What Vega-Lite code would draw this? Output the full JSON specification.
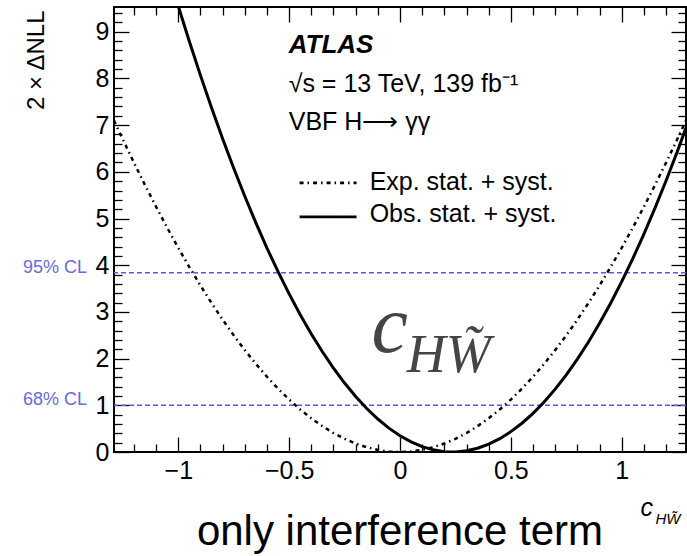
{
  "$schema": "https://vega.github.io/schema/vega-lite/v6.json",
  "width": 572,
  "height": 445,
  "autosize": {"type": "none"},
  "padding": {"left": 114, "top": 7, "right": 1, "bottom": 104},
  "background": "white",
  "title": {"text": "only interference term", "orient": "bottom", "anchor": "middle", "frame": "group", "fontSize": 42, "font": "Liberation Sans", "fontWeight": "normal", "color": "black", "offset": -14},
  "datasets": {
    "curves": [
      {"series": "Obs", "c": -1.05, "nll": 10.34},
      {"series": "Obs", "c": -1.0, "nll": 9.548},
      {"series": "Obs", "c": -0.95, "nll": 8.791},
      {"series": "Obs", "c": -0.9, "nll": 8.066},
      {"series": "Obs", "c": -0.85, "nll": 7.371},
      {"series": "Obs", "c": -0.8, "nll": 6.708},
      {"series": "Obs", "c": -0.75, "nll": 6.076},
      {"series": "Obs", "c": -0.7, "nll": 5.476},
      {"series": "Obs", "c": -0.65, "nll": 4.906},
      {"series": "Obs", "c": -0.6, "nll": 4.368},
      {"series": "Obs", "c": -0.55, "nll": 3.861},
      {"series": "Obs", "c": -0.5, "nll": 3.386},
      {"series": "Obs", "c": -0.45, "nll": 2.941},
      {"series": "Obs", "c": -0.4, "nll": 2.528},
      {"series": "Obs", "c": -0.35, "nll": 2.146},
      {"series": "Obs", "c": -0.3, "nll": 1.796},
      {"series": "Obs", "c": -0.25, "nll": 1.476},
      {"series": "Obs", "c": -0.2, "nll": 1.188},
      {"series": "Obs", "c": -0.15, "nll": 0.931},
      {"series": "Obs", "c": -0.1, "nll": 0.706},
      {"series": "Obs", "c": -0.05, "nll": 0.511},
      {"series": "Obs", "c": 0.0, "nll": 0.348},
      {"series": "Obs", "c": 0.05, "nll": 0.216},
      {"series": "Obs", "c": 0.1, "nll": 0.116},
      {"series": "Obs", "c": 0.15, "nll": 0.046},
      {"series": "Obs", "c": 0.2, "nll": 0.008},
      {"series": "Obs", "c": 0.236, "nll": 0.0},
      {"series": "Obs", "c": 0.25, "nll": 0.001},
      {"series": "Obs", "c": 0.3, "nll": 0.026},
      {"series": "Obs", "c": 0.35, "nll": 0.081},
      {"series": "Obs", "c": 0.4, "nll": 0.168},
      {"series": "Obs", "c": 0.45, "nll": 0.286},
      {"series": "Obs", "c": 0.5, "nll": 0.436},
      {"series": "Obs", "c": 0.55, "nll": 0.616},
      {"series": "Obs", "c": 0.6, "nll": 0.828},
      {"series": "Obs", "c": 0.65, "nll": 1.071},
      {"series": "Obs", "c": 0.7, "nll": 1.346},
      {"series": "Obs", "c": 0.75, "nll": 1.651},
      {"series": "Obs", "c": 0.8, "nll": 1.988},
      {"series": "Obs", "c": 0.85, "nll": 2.356},
      {"series": "Obs", "c": 0.9, "nll": 2.756},
      {"series": "Obs", "c": 0.95, "nll": 3.186},
      {"series": "Obs", "c": 1.0, "nll": 3.648},
      {"series": "Obs", "c": 1.05, "nll": 4.141},
      {"series": "Obs", "c": 1.1, "nll": 4.666},
      {"series": "Obs", "c": 1.15, "nll": 5.221},
      {"series": "Obs", "c": 1.2, "nll": 5.808},
      {"series": "Obs", "c": 1.25, "nll": 6.426},
      {"series": "Obs", "c": 1.29, "nll": 6.943},
      {"series": "Exp", "c": -1.29, "nll": 7.101},
      {"series": "Exp", "c": -1.25, "nll": 6.692},
      {"series": "Exp", "c": -1.2, "nll": 6.196},
      {"series": "Exp", "c": -1.15, "nll": 5.715},
      {"series": "Exp", "c": -1.1, "nll": 5.25},
      {"series": "Exp", "c": -1.05, "nll": 4.802},
      {"series": "Exp", "c": -1.0, "nll": 4.372},
      {"series": "Exp", "c": -0.95, "nll": 3.96},
      {"series": "Exp", "c": -0.9, "nll": 3.566},
      {"series": "Exp", "c": -0.85, "nll": 3.19},
      {"series": "Exp", "c": -0.8, "nll": 2.834},
      {"series": "Exp", "c": -0.75, "nll": 2.498},
      {"series": "Exp", "c": -0.7, "nll": 2.182},
      {"series": "Exp", "c": -0.65, "nll": 1.886},
      {"series": "Exp", "c": -0.6, "nll": 1.611},
      {"series": "Exp", "c": -0.55, "nll": 1.356},
      {"series": "Exp", "c": -0.5, "nll": 1.123},
      {"series": "Exp", "c": -0.45, "nll": 0.911},
      {"series": "Exp", "c": -0.4, "nll": 0.721},
      {"series": "Exp", "c": -0.35, "nll": 0.553},
      {"series": "Exp", "c": -0.3, "nll": 0.406},
      {"series": "Exp", "c": -0.25, "nll": 0.283},
      {"series": "Exp", "c": -0.2, "nll": 0.181},
      {"series": "Exp", "c": -0.15, "nll": 0.102},
      {"series": "Exp", "c": -0.1, "nll": 0.045},
      {"series": "Exp", "c": -0.05, "nll": 0.011},
      {"series": "Exp", "c": 0.0, "nll": 0.0},
      {"series": "Exp", "c": 0.05, "nll": 0.011},
      {"series": "Exp", "c": 0.1, "nll": 0.045},
      {"series": "Exp", "c": 0.15, "nll": 0.102},
      {"series": "Exp", "c": 0.2, "nll": 0.181},
      {"series": "Exp", "c": 0.25, "nll": 0.283},
      {"series": "Exp", "c": 0.3, "nll": 0.406},
      {"series": "Exp", "c": 0.35, "nll": 0.553},
      {"series": "Exp", "c": 0.4, "nll": 0.721},
      {"series": "Exp", "c": 0.45, "nll": 0.911},
      {"series": "Exp", "c": 0.5, "nll": 1.123},
      {"series": "Exp", "c": 0.55, "nll": 1.356},
      {"series": "Exp", "c": 0.6, "nll": 1.611},
      {"series": "Exp", "c": 0.65, "nll": 1.886},
      {"series": "Exp", "c": 0.7, "nll": 2.182},
      {"series": "Exp", "c": 0.75, "nll": 2.498},
      {"series": "Exp", "c": 0.8, "nll": 2.834},
      {"series": "Exp", "c": 0.85, "nll": 3.19},
      {"series": "Exp", "c": 0.9, "nll": 3.566},
      {"series": "Exp", "c": 0.95, "nll": 3.96},
      {"series": "Exp", "c": 1.0, "nll": 4.372},
      {"series": "Exp", "c": 1.05, "nll": 4.802},
      {"series": "Exp", "c": 1.1, "nll": 5.25},
      {"series": "Exp", "c": 1.15, "nll": 5.715},
      {"series": "Exp", "c": 1.2, "nll": 6.196},
      {"series": "Exp", "c": 1.25, "nll": 6.692},
      {"series": "Exp", "c": 1.29, "nll": 7.101}
    ],
    "cl": [
      {"level": 1.0, "label": "68% CL"},
      {"level": 3.84, "label": "95% CL"}
    ],
    "legend": [
      {"series": "Exp", "label": "Exp. stat. + syst.", "x1": -0.453, "x2": -0.196, "ly": 5.764, "tx": -0.137, "ty": 5.614},
      {"series": "Obs", "label": "Obs. stat. + syst.", "x1": -0.453, "x2": -0.196, "ly": 5.035, "tx": -0.137, "ty": 4.928}
    ],
    "info": [
      {"text": "√s = 13 TeV, 139 fb⁻¹", "x": -0.502, "y": 7.72},
      {"text": "VBF H⟶ γγ", "x": -0.502, "y": 6.9}
    ],
    "atlas": [
      {"text": "ATLAS", "x": -0.502, "y": 8.55}
    ],
    "wmc": [{"text": "c", "x": -0.128, "y": 2.14}],
    "wmhw": [{"text": "HW̃", "x": 0.03, "y": 1.71}]
  },
  "resolve": {"axis": {"x": "independent", "y": "independent"}},
  "layer": [
    {
      "data": {"name": "cl"},
      "mark": {"type": "rule", "color": "#5b5bdf", "strokeWidth": 1.6, "strokeDash": [5, 3]},
      "encoding": {
        "y": {"field": "level", "type": "quantitative", "scale": {"domain": [0, 9.53], "nice": false, "zero": false},
          "axis": {"orient": "left", "values": [0, 1, 2, 3, 4, 5, 6, 7, 8, 9], "tickSize": -15, "labelPadding": 20, "format": "~g",
            "title": "2 × ΔNLL", "titleFontSize": 24, "titleAngle": 270, "titleAlign": "right", "titleBaseline": "alphabetic", "titleX": -71, "titleY": 3}}
      }
    },
    {
      "data": {"name": "cl"},
      "mark": {"type": "text", "align": "right", "baseline": "alphabetic", "dx": -27, "fontSize": 18, "font": "Liberation Sans", "color": "#6a6ad8"},
      "encoding": {
        "x": {"datum": -1.29, "type": "quantitative", "scale": {"domain": [-1.29, 1.29], "nice": false, "zero": false}, "axis": null},
        "y": {"field": "level", "type": "quantitative", "scale": {"domain": [0, 9.53], "nice": false, "zero": false},
          "axis": {"orient": "left", "values": [0.2, 0.4, 0.6, 0.8, 1.2, 1.4, 1.6, 1.8, 2.2, 2.4, 2.6, 2.8, 3.2, 3.4, 3.6, 3.8, 4.2, 4.4, 4.6, 4.8, 5.2, 5.4, 5.6, 5.8, 6.2, 6.4, 6.6, 6.8, 7.2, 7.4, 7.6, 7.8, 8.2, 8.4, 8.6, 8.8, 9.2, 9.4], "tickSize": -8, "labels": false, "title": null}},
        "text": {"field": "label"}
      }
    },
    {
      "data": {"name": "curves"},
      "transform": [{"filter": "datum.series === 'Obs'"}],
      "mark": {"type": "line", "color": "black", "strokeWidth": 3, "clip": true},
      "encoding": {
        "x": {"field": "c", "type": "quantitative", "scale": {"domain": [-1.29, 1.29], "nice": false, "zero": false},
          "axis": {"orient": "bottom", "values": [-1, -0.5, 0, 0.5, 1], "tickSize": -15, "labelPadding": 21, "format": "~g",
            "title": "c", "titleFontSize": 25, "titleFontStyle": "italic", "titleAlign": "left", "titleBaseline": "alphabetic", "titleX": 526, "titleY": 63}},
        "y": {"field": "nll", "type": "quantitative", "scale": {"domain": [0, 9.53], "nice": false, "zero": false},
          "axis": {"orient": "right", "values": [0, 1, 2, 3, 4, 5, 6, 7, 8, 9], "tickSize": -15, "labels": false, "title": null}}
      }
    },
    {
      "data": {"name": "curves"},
      "transform": [{"filter": "datum.series === 'Exp'"}],
      "mark": {"type": "line", "color": "black", "strokeWidth": 2.5, "strokeDash": [4, 4, 1.5, 4], "clip": true},
      "encoding": {
        "x": {"field": "c", "type": "quantitative", "scale": {"domain": [-1.29, 1.29], "nice": false, "zero": false},
          "axis": {"orient": "bottom", "values": [-1.2, -1.1, -0.9, -0.8, -0.7, -0.6, -0.4, -0.3, -0.2, -0.1, 0.1, 0.2, 0.3, 0.4, 0.6, 0.7, 0.8, 0.9, 1.1, 1.2], "tickSize": -8, "labels": false, "title": null}},
        "y": {"field": "nll", "type": "quantitative", "scale": {"domain": [0, 9.53], "nice": false, "zero": false},
          "axis": {"orient": "right", "values": [0.2, 0.4, 0.6, 0.8, 1.2, 1.4, 1.6, 1.8, 2.2, 2.4, 2.6, 2.8, 3.2, 3.4, 3.6, 3.8, 4.2, 4.4, 4.6, 4.8, 5.2, 5.4, 5.6, 5.8, 6.2, 6.4, 6.6, 6.8, 7.2, 7.4, 7.6, 7.8, 8.2, 8.4, 8.6, 8.8, 9.2, 9.4], "tickSize": -8, "labels": false, "title": null}}
      }
    },
    {
      "data": {"name": "legend"},
      "mark": {"type": "rule", "color": "black", "strokeWidth": 2.8},
      "encoding": {
        "x": {"field": "x1", "type": "quantitative", "scale": {"domain": [-1.29, 1.29], "nice": false, "zero": false},
          "axis": {"orient": "top", "values": [-1, -0.5, 0, 0.5, 1], "tickSize": -15, "labels": false, "title": null}},
        "x2": {"field": "x2"},
        "y": {"field": "ly", "type": "quantitative", "scale": {"domain": [0, 9.53], "nice": false, "zero": false}, "axis": null},
        "strokeDash": {"field": "series", "type": "nominal", "scale": {"domain": ["Exp", "Obs"], "range": [[4, 4, 1.5, 4], [1, 0]]}, "legend": null}
      }
    },
    {
      "data": {"name": "legend"},
      "mark": {"type": "text", "align": "left", "baseline": "alphabetic", "fontSize": 25, "font": "Liberation Sans", "color": "black"},
      "encoding": {
        "x": {"field": "tx", "type": "quantitative", "scale": {"domain": [-1.29, 1.29], "nice": false, "zero": false},
          "axis": {"orient": "top", "values": [-1.2, -1.1, -0.9, -0.8, -0.7, -0.6, -0.4, -0.3, -0.2, -0.1, 0.1, 0.2, 0.3, 0.4, 0.6, 0.7, 0.8, 0.9, 1.1, 1.2], "tickSize": -8, "labels": false,
            "title": "HW̃", "titleFontSize": 15, "titleFontStyle": "italic", "titleAlign": "left", "titleBaseline": "alphabetic", "titleX": 541, "titleY": 516}},
        "y": {"field": "ty", "type": "quantitative", "scale": {"domain": [0, 9.53], "nice": false, "zero": false}, "axis": null},
        "text": {"field": "label"}
      }
    },
    {
      "data": {"name": "info"},
      "mark": {"type": "text", "align": "left", "baseline": "alphabetic", "fontSize": 25, "font": "Liberation Sans", "color": "black"},
      "encoding": {
        "x": {"field": "x", "type": "quantitative", "scale": {"domain": [-1.29, 1.29], "nice": false, "zero": false}, "axis": null},
        "y": {"field": "y", "type": "quantitative", "scale": {"domain": [0, 9.53], "nice": false, "zero": false}, "axis": null},
        "text": {"field": "text"}
      }
    },
    {
      "data": {"name": "atlas"},
      "mark": {"type": "text", "align": "left", "baseline": "alphabetic", "fontSize": 26, "font": "Liberation Sans", "fontWeight": "bold", "fontStyle": "italic", "color": "black"},
      "encoding": {
        "x": {"field": "x", "type": "quantitative", "scale": {"domain": [-1.29, 1.29], "nice": false, "zero": false}, "axis": null},
        "y": {"field": "y", "type": "quantitative", "scale": {"domain": [0, 9.53], "nice": false, "zero": false}, "axis": null},
        "text": {"field": "text"}
      }
    },
    {
      "data": {"name": "wmc"},
      "mark": {"type": "text", "align": "left", "baseline": "alphabetic", "fontSize": 82, "font": "Liberation Serif", "fontStyle": "italic", "color": "#454545"},
      "encoding": {
        "x": {"field": "x", "type": "quantitative", "scale": {"domain": [-1.29, 1.29], "nice": false, "zero": false}, "axis": null},
        "y": {"field": "y", "type": "quantitative", "scale": {"domain": [0, 9.53], "nice": false, "zero": false}, "axis": null},
        "text": {"field": "text"}
      }
    },
    {
      "data": {"name": "wmhw"},
      "mark": {"type": "text", "align": "left", "baseline": "alphabetic", "fontSize": 54, "font": "Liberation Serif", "fontStyle": "italic", "color": "#454545"},
      "encoding": {
        "x": {"field": "x", "type": "quantitative", "scale": {"domain": [-1.29, 1.29], "nice": false, "zero": false}, "axis": null},
        "y": {"field": "y", "type": "quantitative", "scale": {"domain": [0, 9.53], "nice": false, "zero": false}, "axis": null},
        "text": {"field": "text"}
      }
    }
  ],
  "config": {
    "view": {"stroke": "black", "strokeWidth": 2},
    "font": "Liberation Sans",
    "axis": {
      "grid": false, "domain": false, "labelFont": "Liberation Sans", "labelFontSize": 25, "labelColor": "black",
      "tickColor": "black", "tickWidth": 1.3, "labelOverlap": false, "labelFlush": false, "labelBound": false,
      "titleFont": "Liberation Sans", "titleFontWeight": "normal", "titleColor": "black"
    }
  }
}
